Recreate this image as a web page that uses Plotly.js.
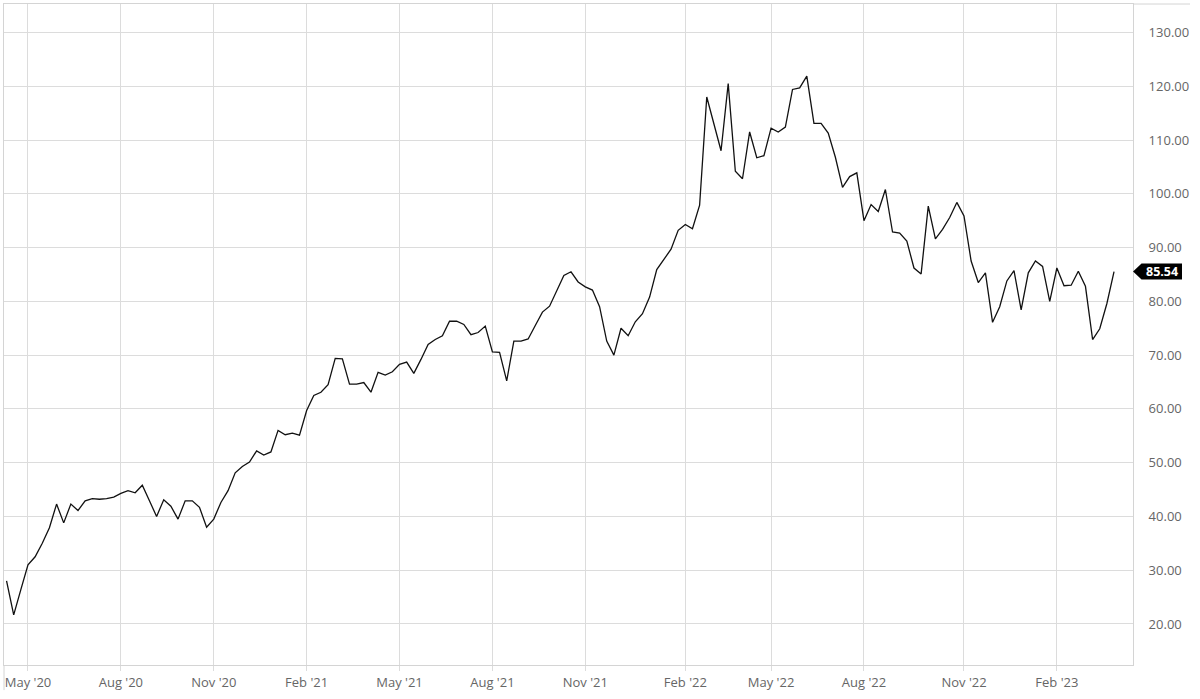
<!DOCTYPE html>
<html>
<head>
<meta charset="utf-8">
<script src="https://cdn.plot.ly/plotly-3.0.1.min.js"></script>
<style>
  html, body { margin: 0; padding: 0; background: #ffffff; }
  #chart { width: 1200px; height: 699px; }
</style>
</head>
<body>
<div id="chart"></div>
<script>
// Weekly closing prices (Mondays), first week 2020-04-13
const firstWeek = '2020-04-13';
const closePrices = [
  28.0, 21.7, 26.4, 31.0, 32.5, 35.0, 37.9, 42.3, 38.8, 42.3,
  41.1, 42.9, 43.3, 43.2, 43.3, 43.6, 44.3, 44.8, 44.4, 45.8,
  42.9, 40.0, 43.1, 41.9, 39.5, 42.9, 42.9, 41.7, 38.0, 39.5,
  42.6, 44.8, 48.1, 49.3, 50.1, 52.2, 51.4, 52.0, 56.0, 55.2,
  55.5, 55.1, 59.7, 62.5, 63.1, 64.5, 69.4, 69.3, 64.6, 64.6,
  64.9, 63.1, 66.8, 66.3, 66.9, 68.3, 68.7, 66.6, 69.2, 72.0,
  72.9, 73.6, 76.3, 76.3, 75.7, 73.8, 74.2, 75.4, 70.6, 70.5,
  65.2, 72.6, 72.6, 73.0, 75.5, 78.0, 79.1, 82.1, 84.8, 85.5,
  83.6, 82.7, 82.1, 79.0, 72.6, 70.0, 75.0, 73.6, 76.2, 77.7,
  80.8, 85.9, 87.8, 89.7, 93.2, 94.3, 93.5, 97.9, 118.0, 113.0,
  108.0, 120.5, 104.2, 102.8, 111.5, 106.7, 107.1, 112.2, 111.5, 112.4,
  119.4, 119.7, 121.9, 113.1, 113.1, 111.3, 106.8, 101.2, 103.2, 103.9,
  95.0, 98.0, 96.7, 100.8, 92.9, 92.7, 91.2, 86.2, 85.1, 97.7,
  91.6, 93.4, 95.6, 98.4, 95.9, 87.5, 83.5, 85.3, 76.1, 79.0,
  83.8, 85.7, 78.4, 85.3, 87.5, 86.5, 80.0, 86.2, 82.9, 83.0,
  85.6, 82.8, 72.9, 74.9, 79.6, 85.54
];
const tickDates = [
  '2020-05-04', '2020-08-03', '2020-11-02', '2021-02-01', '2021-05-03', '2021-08-02',
  '2021-11-01', '2022-02-07', '2022-05-02', '2022-08-01', '2022-11-07', '2023-02-06'
];
const tickLabels = [
  "May '20", "Aug '20", "Nov '20", "Feb '21", "May '21", "Aug '21",
  "Nov '21", "Feb '22", "May '22", "Aug '22", "Nov '22", "Feb '23"
];
const yTicks = [20, 30, 40, 50, 60, 70, 80, 90, 100, 110, 120, 130];
const lastPrice = closePrices[closePrices.length - 1];

// weekly date for each close
const weekDates = closePrices.map((_, i) => {
  const d = new Date(firstWeek + 'T00:00:00Z');
  d.setUTCDate(d.getUTCDate() + 7 * i);
  return d.toISOString().slice(0, 10);
});

const frameColor = '#d4d4d4';
const gridColor = '#dcdcdc';

const trace = {
  type: 'scatter',
  mode: 'lines',
  x: weekDates,
  y: closePrices,
  line: { color: '#111111', width: 1.3 },
  hoverinfo: 'x+y'
};

const layout = {
  width: 1200,
  height: 699,
  margin: { l: 4, r: 67, t: 4, b: 34, pad: 0 },
  paper_bgcolor: '#ffffff',
  plot_bgcolor: '#ffffff',
  showlegend: false,
  font: { family: '"Open Sans", "Noto Sans", sans-serif', color: '#666666', size: 13 },
  xaxis: {
    type: 'date',
    range: ['2020-04-10 12:00', '2023-04-21 14:00'],
    tickmode: 'array',
    tickvals: tickDates,
    ticktext: tickLabels,
    showgrid: true,
    gridcolor: gridColor,
    gridwidth: 1,
    ticks: 'outside',
    ticklen: 5,
    tickcolor: gridColor,
    showline: true,
    linecolor: frameColor,
    linewidth: 1,
    mirror: true,
    zeroline: false,
    tickfont: { size: 13, color: '#666666' },
    fixedrange: true
  },
  yaxis: {
    side: 'right',
    range: [12.37, 135.3],
    tickmode: 'array',
    tickvals: yTicks,
    tickformat: '.2f',
    showgrid: true,
    gridcolor: gridColor,
    gridwidth: 1,
    ticks: '',
    ticklabelstandoff: 12,
    showline: true,
    linecolor: frameColor,
    linewidth: 1,
    mirror: true,
    zeroline: false,
    tickfont: { size: 13, color: '#666666' },
    fixedrange: true
  },
  shapes: [
    // top border extension
    { type: 'line', xref: 'paper', yref: 'paper', x0: 1, x1: 1.0505, y0: 1, y1: 1,
      line: { color: frameColor, width: 1 } },
    // left border extension below the axis
    { type: 'line', xref: 'paper', yref: 'paper', x0: 0, x1: 0, y0: 0, y1: -0.038,
      line: { color: frameColor, width: 1 } },
    // last price marker
    { type: 'path', xref: 'paper', yref: 'y', xsizemode: 'pixel', ysizemode: 'pixel',
      xanchor: 1, yanchor: lastPrice,
      path: 'M 0 0 L 8.5 8 L 49 8 L 49 -8 L 8.5 -8 Z',
      fillcolor: '#000000', line: { width: 0 } }
  ],
  annotations: [
    { xref: 'paper', yref: 'y', x: 1, y: lastPrice, xanchor: 'left', yanchor: 'middle',
      xshift: 11, showarrow: false, text: lastPrice.toFixed(2),
      font: { family: '"Open Sans", sans-serif', size: 12.5, color: '#ffffff', weight: 'bold' } }
  ]
};

Plotly.newPlot('chart', [trace], layout, { displayModeBar: false, staticPlot: false });
</script>
</body>
</html>
